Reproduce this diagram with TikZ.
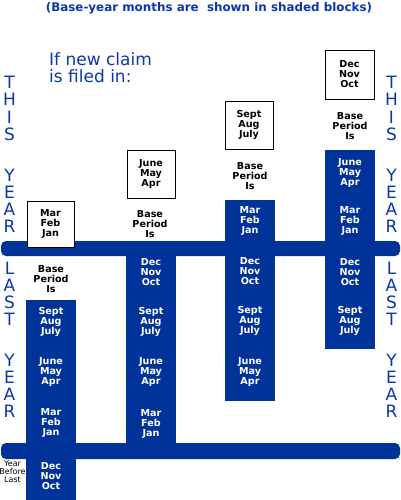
\documentclass[tikz,border=0pt]{standalone}
\usepackage{fontspec}
\setmainfont{DejaVu Sans}
\definecolor{barblue}{RGB}{0,51,153}
\definecolor{txtblue}{RGB}{10,55,170}
\begin{document}
\begin{tikzpicture}[x=1pt,y=-1pt,
  months/.style={font=\fontsize{9.6}{10}\selectfont\bfseries, align=center, inner sep=0pt},
  colmonths/.style={months, text=white},
  boxmonths/.style={months, text=black},
  basep/.style={months, text=black},
  monthbox/.style={draw=black, fill=white, line width=0.9pt},
  vletter/.style={font=\fontsize{17}{17}\selectfont, text=txtblue, inner sep=0pt, anchor=base},
  headline/.style={font=\fontsize{11.9}{12}\selectfont\bfseries, text=txtblue, inner sep=0pt},
  bigtext/.style={font=\fontsize{17}{17}\selectfont, text=txtblue, inner sep=0pt, anchor=base west}]
\useasboundingbox (0,0) rectangle (400,500);
\fill[white] (0,0) rectangle (400,500);

% horizontal bars
\fill[barblue, rounded corners=5pt] (1,241) rectangle (400,256);
\fill[barblue, rounded corners=5pt] (1,443) rectangle (400,459);
% columns
\fill[barblue] (26,300) rectangle (76,500);
\fill[barblue] (126,241) rectangle (176,459);
\fill[barblue] (225,200) rectangle (275,401);
\fill[barblue] (325,150) rectangle (375,349);

% heading
\node[headline] (head) at (209,8.5) {(Base-year months are\ \ shown in shaded blocks)};
\node[bigtext] (if1) at (49,66) {If new claim};
\node[bigtext] (if2) at (49,83) {is filed in:};

% boxes with filing months
\node[monthbox, minimum width=47pt, minimum height=46pt, inner sep=0pt] (box1) at (50.5,224) {};
\node[monthbox, minimum width=48pt, minimum height=48pt, inner sep=0pt] (box2) at (151,174) {};
\node[monthbox, minimum width=48pt, minimum height=48pt, inner sep=0pt] (box3) at (249,125) {};
\node[monthbox, minimum width=49pt, minimum height=49pt, inner sep=0pt] (box4) at (349.5,74.5) {};
\node[boxmonths] (b1t) at (box1.center) {Mar\\Feb\\Jan};
\node[boxmonths] (b2t) at (box2.center) {June\\May\\Apr};
\node[boxmonths] (b3t) at (box3.center) {Sept\\Aug\\July};
\node[boxmonths] (b4t) at (box4.center) {Dec\\Nov\\Oct};

% base period labels
\node[basep] (bp1) at (51,279) {Base\\Period\\Is};
\node[basep] (bp2) at (150,224) {Base\\Period\\Is};
\node[basep] (bp3) at (250,176) {Base\\Period\\Is};
\node[basep] (bp4) at (350,126) {Base\\Period\\Is};

% column 1
\node[colmonths] (c1a) at (51,322) {Sept\\Aug\\July};
\node[colmonths] (c1b) at (51,372) {June\\May\\Apr};
\node[colmonths] (c1c) at (51,423) {Mar\\Feb\\Jan};
\node[colmonths] (c1d) at (51,476) {Dec\\Nov\\Oct};
% column 2
\node[colmonths] (c2a) at (151,272) {Dec\\Nov\\Oct};
\node[colmonths] (c2b) at (151,322) {Sept\\Aug\\July};
\node[colmonths] (c2c) at (151,372) {June\\May\\Apr};
\node[colmonths] (c2d) at (151,424) {Mar\\Feb\\Jan};
% column 3
\node[colmonths] (c3a) at (250,221) {Mar\\Feb\\Jan};
\node[colmonths] (c3b) at (250,271) {Dec\\Nov\\Oct};
\node[colmonths] (c3c) at (250,321) {Sept\\Aug\\July};
\node[colmonths] (c3d) at (250,372) {June\\May\\Apr};
% column 4
\node[colmonths] (c4a) at (350,173) {June\\May\\Apr};
\node[colmonths] (c4b) at (350,221) {Mar\\Feb\\Jan};
\node[colmonths] (c4c) at (350,272) {Dec\\Nov\\Oct};
\node[colmonths] (c4d) at (350,321) {Sept\\Aug\\July};

% vertical words
\foreach \ch/\yy [count=\i] in {T/89,H/106,I/123,S/140,Y/181,E/198,A/215,R/232,
                                L/274,A/291,S/308,T/325,Y/366,E/383,A/400,R/417} {
  \node[vletter] (left\i) at (9.5,\yy) {\ch};
  \node[vletter] (right\i) at (391.5,\yy) {\ch};
}

% year before last
\node[font=\fontsize{8}{8}\selectfont, align=center, inner sep=0pt] (ybl) at (12.5,472) {Year\\Before\\Last};
\end{tikzpicture}
\end{document}
